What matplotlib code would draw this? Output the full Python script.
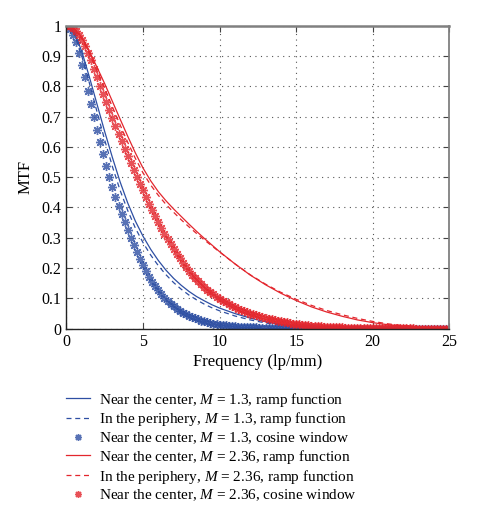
import numpy as np
import matplotlib.pyplot as plt

plt.rcParams['font.family'] = ['Liberation Serif', 'DejaVu Serif']
plt.rcParams['mathtext.fontset'] = 'custom'
plt.rcParams['mathtext.rm'] = 'Liberation Serif'
plt.rcParams['mathtext.it'] = 'Liberation Serif:italic'

# частоты для линий (lp/mm)
freq_line = [0, 0.5, 1, 1.5, 2, 2.5, 3, 3.5, 4, 4.5, 5, 5.5, 6, 6.5, 7, 7.5, 8, 8.5,
             9, 9.5, 10, 11, 12, 13, 14, 15, 16, 17, 18, 19, 20, 21, 22, 23, 24, 25]

blue_center = [1.0, 0.98, 0.915, 0.83, 0.74, 0.65, 0.565, 0.485, 0.415, 0.355, 0.305,
               0.262, 0.225, 0.193, 0.166, 0.143, 0.123, 0.106, 0.092, 0.079, 0.068,
               0.05, 0.035, 0.023, 0.014, 0.008, 0.004, 0.002, 0.001, 0, 0, 0, 0, 0, 0, 0]
blue_periph = [1.0, 0.975, 0.90, 0.81, 0.715, 0.622, 0.535, 0.457, 0.39, 0.332, 0.284,
               0.243, 0.208, 0.178, 0.152, 0.13, 0.111, 0.095, 0.081, 0.069, 0.059,
               0.042, 0.029, 0.019, 0.011, 0.006, 0.003, 0.001, 0, 0, 0, 0, 0, 0, 0, 0]
red_center = [1.0, 0.99, 0.962, 0.915, 0.862, 0.808, 0.75, 0.692, 0.635, 0.58, 0.53,
              0.488, 0.452, 0.422, 0.395, 0.37, 0.345, 0.321, 0.298, 0.276, 0.254,
              0.214, 0.177, 0.145, 0.117, 0.093, 0.072, 0.055, 0.041, 0.029, 0.02,
              0.013, 0.008, 0.005, 0.003, 0.002]
red_periph = [1.0, 0.99, 0.957, 0.907, 0.85, 0.792, 0.732, 0.673, 0.615, 0.562, 0.514,
              0.474, 0.44, 0.41, 0.384, 0.359, 0.336, 0.314, 0.293, 0.273, 0.253,
              0.214, 0.178, 0.147, 0.12, 0.097, 0.077, 0.06, 0.046, 0.034, 0.024,
              0.016, 0.01, 0.006, 0.004, 0.002]

# косинусное окно, шаг 0.2 lp/mm
freq_star = np.round(np.arange(0, 25.01, 0.2), 1)
blue_cosine = [1.0, 0.99, 0.97, 0.945, 0.91, 0.87, 0.83, 0.785, 0.74, 0.70,
               0.655, 0.615, 0.575, 0.537, 0.502, 0.467, 0.434, 0.405, 0.378, 0.351,
               0.326, 0.300, 0.277, 0.254, 0.23, 0.21, 0.19, 0.172, 0.155, 0.14,
               0.127, 0.114, 0.102, 0.092, 0.082, 0.074, 0.066, 0.059, 0.053, 0.048,
               0.043, 0.039, 0.035, 0.031, 0.027, 0.024, 0.021, 0.019, 0.017, 0.015,
               0.013, 0.012, 0.011, 0.01, 0.009, 0.008, 0.007, 0.006, 0.006, 0.005,
               0.005, 0.004, 0.004, 0.003, 0.003, 0.003] \
              + [0.002] * 5 + [0.001] * 10 + [0.0] * 45
red_cosine = [1.0, 0.998, 0.993, 0.982, 0.968, 0.952, 0.932, 0.91, 0.885, 0.858,
              0.83, 0.802, 0.775, 0.748, 0.72, 0.694, 0.668, 0.643, 0.618, 0.594,
              0.57, 0.546, 0.523, 0.5, 0.478, 0.456, 0.434, 0.413, 0.392, 0.372,
              0.352, 0.333, 0.314, 0.296, 0.278, 0.263, 0.247, 0.232, 0.217, 0.203,
              0.19, 0.178, 0.167, 0.157, 0.147, 0.138, 0.129, 0.121, 0.113, 0.106,
              0.099, 0.093, 0.087, 0.081, 0.076, 0.071, 0.066, 0.062, 0.058, 0.054,
              0.05, 0.047, 0.044, 0.041, 0.038, 0.035, 0.033, 0.031, 0.029, 0.027,
              0.025, 0.023, 0.021, 0.019, 0.017, 0.015, 0.014, 0.013, 0.012, 0.011,
              0.01, 0.009, 0.008, 0.008, 0.007, 0.007, 0.006, 0.006, 0.005, 0.005,
              0.004] \
             + [0.003] * 5 + [0.002] * 7 + [0.001] * 11 + [0.0] * 12

labels = [r'Near the center, $M$ = 1.3, ramp function',
          r'In the periphery, $M$ = 1.3, ramp function',
          r'Near the center, $M$ = 1.3, cosine window',
          r'Near the center, $M$ = 2.36, ramp function',
          r'In the periphery, $M$ = 2.36, ramp function',
          r'Near the center, $M$ = 2.36, cosine window']

blue = '#2e4fa3'
red = '#e3262d'
star = (8, 2, 0)

fig = plt.figure(figsize=(4.78, 5.12), dpi=100)
ax = fig.add_axes([0.139, 0.358, 0.801, 0.592])

ax.plot(freq_line, blue_center, color=blue, lw=0.9, label=labels[0])
ax.plot(freq_line, blue_periph, color=blue, lw=0.9, ls=(0, (4, 3)), label=labels[1])
ax.plot(freq_star, blue_cosine, ls='none', marker=star, ms=6.5, mew=1.0,
        color=blue, alpha=0.8, label=labels[2])
ax.plot(freq_line, red_center, color=red, lw=0.9, label=labels[3])
ax.plot(freq_line, red_periph, color=red, lw=0.9, ls=(0, (4, 3)), label=labels[4])
ax.plot(freq_star, red_cosine, ls='none', marker=star, ms=6.5, mew=1.0,
        color=red, alpha=0.8, label=labels[5])

ax.set_xlim(0, 25)
ax.set_ylim(0, 1)
ax.set_xticks([0, 5, 10, 15, 20, 25])
ax.set_yticks(np.arange(0, 1.01, 0.1))
ax.set_yticklabels(['0', '0.1', '0.2', '0.3', '0.4', '0.5', '0.6', '0.7', '0.8', '0.9', '1'])
ax.tick_params(direction='in', length=4, width=0.8, top=True, right=True,
               labelsize=11.5, color='#444444')
ax.grid(True, ls=(0, (1, 4)), color='#555555', lw=0.8)
for s in ['left', 'bottom']:
    ax.spines[s].set_color('#222222')
    ax.spines[s].set_linewidth(1.0)
ax.spines['top'].set_color('#808080')
ax.spines['top'].set_linewidth(1.8)
ax.spines['right'].set_color('#808080')
ax.spines['right'].set_linewidth(1.3)

ax.set_xlabel('Frequency (lp/mm)', fontsize=12, labelpad=3)
ax.set_ylabel('MTF', fontsize=12, labelpad=6)

handles, labs = ax.get_legend_handles_labels()
leg = fig.legend(handles, labs, loc='upper left', bbox_to_anchor=(0.138, 0.237),
                 frameon=False, fontsize=11, handlelength=1.6, handletextpad=0.55,
                 labelspacing=0.12, borderpad=0, borderaxespad=0)
for h in leg.legend_handles:
    if h.get_marker() not in (None, 'None', ''):
        h.set_markersize(5)

fig.savefig('out.png', dpi=100)
